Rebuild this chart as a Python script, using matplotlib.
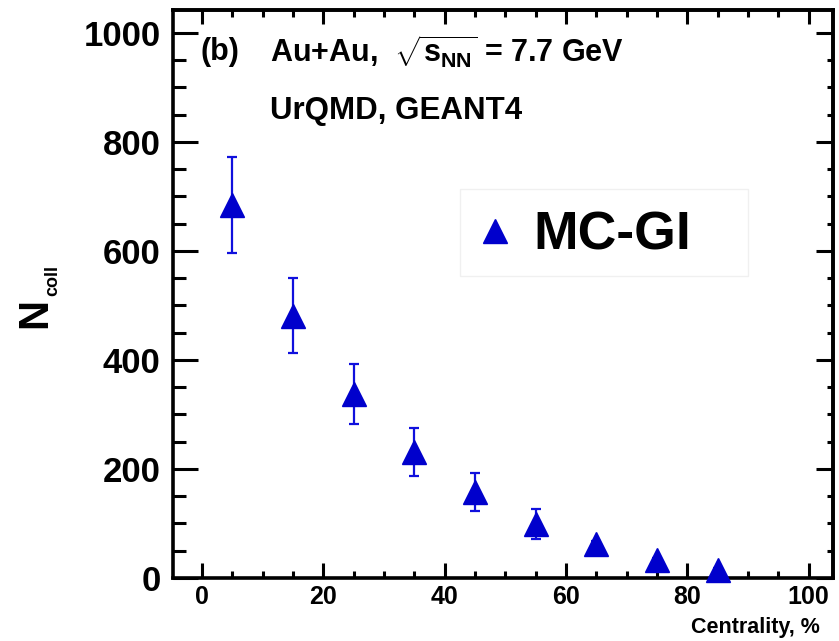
import matplotlib.pyplot as plt
from matplotlib.lines import Line2D
from matplotlib.patches import Rectangle
from matplotlib.ticker import MultipleLocator

plt.rcParams['font.family'] = ['Liberation Sans', 'DejaVu Sans']
plt.rcParams['font.weight'] = 'bold'
plt.rcParams['mathtext.fontset'] = 'custom'
plt.rcParams['mathtext.rm'] = 'Liberation Sans:bold'
plt.rcParams['mathtext.it'] = 'Liberation Sans:bold'
plt.rcParams['mathtext.bf'] = 'Liberation Sans:bold'

# Ncoll vs centrality (bin centres), MC-Glauber
centrality = [5, 15, 25, 35, 45, 55, 65, 75, 85]
ncoll = [684, 481, 338, 232, 158, 99, 62, 33, 15]
ncoll_err = [88, 69, 55, 44, 35, 27, 6, 4, 3]

blue = '#0000cc'

fig = plt.figure(figsize=(8.39, 6.41), dpi=100)
ax = fig.add_axes([173/839, 63/641, 660/839, 568/641])

ax.errorbar(centrality, ncoll, yerr=ncoll_err, fmt='^', ms=17, color=blue,
            ecolor='#1010dd', elinewidth=1.6, capsize=3.3, capthick=1.6,
            clip_on=False, zorder=3)

ax.set_xlim(-4.8, 104)
ax.set_ylim(0, 1042)

for s in ax.spines.values():
    s.set_linewidth(2.6)

ax.xaxis.set_major_locator(MultipleLocator(20))
ax.xaxis.set_minor_locator(MultipleLocator(5))
ax.yaxis.set_major_locator(MultipleLocator(200))
ax.yaxis.set_minor_locator(MultipleLocator(50))

ax.tick_params(axis='y', which='major', direction='in', length=18, width=2.2,
               labelsize=25, pad=9)
ax.tick_params(axis='y', which='minor', direction='in', length=9, width=2.2)
ax.tick_params(axis='x', which='major', direction='in', length=11, width=2.2,
               labelsize=18, pad=5)
ax.tick_params(axis='x', which='minor', direction='in', length=5, width=2.2)

# shorter ticks on the opposite sides
top = ax.secondary_xaxis('top')
top.xaxis.set_major_locator(MultipleLocator(20))
top.xaxis.set_minor_locator(MultipleLocator(5))
top.tick_params(which='major', direction='in', length=10, width=2.2, labeltop=False)
top.tick_params(which='minor', direction='in', length=5, width=2.2)
top.spines['top'].set_linewidth(2.6)

right = ax.secondary_yaxis('right')
right.yaxis.set_major_locator(MultipleLocator(200))
right.yaxis.set_minor_locator(MultipleLocator(50))
right.tick_params(which='major', direction='in', length=12, width=2.2, labelright=False)
right.tick_params(which='minor', direction='in', length=4, width=2.2)
right.spines['right'].set_linewidth(2.6)

# axis titles
fig.text(820/839, 1 - 628/641, 'Centrality, %', fontsize=15.5, fontweight='bold',
         ha='right', va='center')
fig.text(35/839, 1 - 313/641, 'N', fontsize=30, fontweight='bold',
         rotation=90, ha='center', va='center')
fig.text(53/839, 1 - 280/641, 'coll', fontsize=13, fontweight='bold',
         rotation=90, ha='center', va='center')

# labels in the frame
fig.text(201/839, 1 - 52/641, '(b)', fontsize=22, fontweight='bold',
         ha='left', va='center')
fig.text(270/839, 1 - 52/641, r'Au+Au,  $\sqrt{s_{NN}}$ = 7.7 GeV', fontsize=22,
         fontweight='bold', ha='left', va='center')
fig.text(270/839, 1 - 111/641, 'UrQMD, GEANT4', fontsize=22.5, fontweight='bold',
         ha='left', va='center')

# legend: faint box, marker and label
ax.add_patch(Rectangle((0.435, 0.532), 0.436, 0.153, transform=ax.transAxes,
                       facecolor='white', edgecolor='#f0f0f0', lw=1.0, zorder=1))
handle = Line2D([], [], ls='none', marker='^', ms=17, color=blue)
leg = ax.legend([handle], ['MC-GI'], loc='center left', bbox_to_anchor=(0.456, 0.603),
                prop={'size': 38.5, 'weight': 'bold'}, frameon=False,
                handlelength=0.78, handletextpad=0.33, borderpad=0, borderaxespad=0)

fig.savefig('out.png', dpi=100)
